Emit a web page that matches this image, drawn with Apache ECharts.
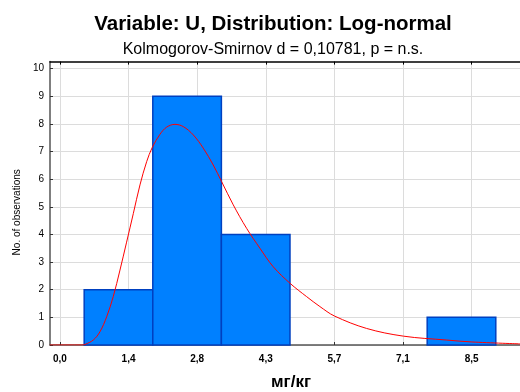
<!DOCTYPE html>
<html><head><meta charset="utf-8">
<script src="https://cdn.jsdelivr.net/npm/echarts@6/dist/echarts.min.js"></script>
<style>html,body{margin:0;padding:0;background:#fff}#c{width:520px;height:392px}</style>
</head><body><div id="c"></div>
<script>
const binEdges = [0.5, 1.91667, 3.33333, 4.75, 6.16667, 7.58333, 9.0];
const counts = [2, 9, 4, 0, 0, 1];
const xTickValues = [0, 1.41667, 2.83333, 4.25, 5.66667, 7.08333, 8.5];
const xTickLabels = ['0,0', '1,4', '2,8', '4,3', '5,7', '7,1', '8,5'];
const yTickValues = [0, 1, 2, 3, 4, 5, 6, 7, 8, 9, 10];
const curveX = [-0.21, 0.3, 0.45, 0.516, 0.688, 0.826, 0.964, 1.10, 1.239, 1.376, 1.514, 1.652, 1.79, 1.907, 2.065, 2.203, 2.374, 2.546, 2.752, 2.959, 3.165, 3.338, 3.578, 3.854, 4.129, 4.404, 4.752, 5.093, 5.368, 5.667, 6.33, 7.093, 7.98, 8.506, 9.5];
const curveY = [0, 0, 0, 0.02, 0.18, 0.48, 1.02, 1.75, 2.71, 3.72, 4.75, 5.79, 6.63, 7.15, 7.62, 7.88, 7.98, 7.90, 7.60, 7.12, 6.51, 5.91, 5.07, 4.22, 3.50, 2.83, 2.23, 1.75, 1.39, 1.05, 0.60, 0.32, 0.18, 0.11, 0.04];

const xMin = -0.206, xMax = 9.5, yMax = 10.25;
const font = 'Liberation Sans';

const barData = counts.map((c, i) => [binEdges[i], binEdges[i + 1], c]);
const curveData = curveX.map((x, i) => [x, curveY[i]]);

const chart = echarts.init(document.getElementById('c'), null, {renderer: 'canvas'});
chart.setOption({
  animation: false,
  backgroundColor: '#fff',
  title: [
    {text: 'Variable: U, Distribution: Log-normal', left: 273, top: 14, textAlign: 'center', padding: 0,
     textStyle: {fontFamily: font, fontWeight: 'bold', fontSize: 20.5, color: '#000'}},
    {text: 'Kolmogorov-Smirnov d = 0,10781, p = n.s.', left: 273, top: 42, textAlign: 'center', padding: 0,
     textStyle: {fontFamily: font, fontWeight: 'normal', fontSize: 16, color: '#000'}}
  ],
  grid: {left: 50, right: 0, top: 61.6, bottom: 47, containLabel: false, outerBoundsMode: 'none'},
  xAxis: [{
    type: 'value', min: xMin, max: xMax, position: 'bottom',
    name: 'мг/кг', nameLocation: 'middle', nameGap: 29,
    nameTextStyle: {fontFamily: font, fontWeight: 'bold', fontSize: 17, color: '#000', padding: [0, 0, 0, 12]},
    axisLine: {onZero: false, lineStyle: {color: '#555', width: 1.5}},
    axisTick: {inside: true, length: 3, customValues: xTickValues, lineStyle: {color: '#333'}},
    axisLabel: {customValues: xTickValues, margin: 9, fontFamily: font, fontWeight: 'bold', fontSize: 10, color: '#000',
      formatter: v => { const i = xTickValues.findIndex(t => Math.abs(t - v) < 1e-3); return i >= 0 ? xTickLabels[i] : ''; }},
    splitLine: {show: true, lineStyle: {color: '#dcdcdc', width: 1}}
  }, {
    type: 'value', min: xMin, max: xMax, position: 'top',
    axisLine: {onZero: false, lineStyle: {color: '#000', width: 1.5}},
    axisTick: {inside: true, length: 3, customValues: xTickValues, lineStyle: {color: '#000'}},
    axisLabel: {show: false},
    splitLine: {show: false}
  }],
  yAxis: {
    type: 'value', min: 0, max: yMax,
    name: 'No. of observations', nameLocation: 'middle', nameGap: 20,
    nameTextStyle: {fontFamily: font, fontSize: 10, color: '#000', padding: [0, 18, 0, 0]},
    axisLine: {show: true, onZero: false, lineStyle: {color: '#555', width: 1.5}},
    axisTick: {show: true, inside: true, length: 3, customValues: yTickValues, lineStyle: {color: '#333'}},
    axisLabel: {customValues: yTickValues, margin: 6, fontFamily: font, fontSize: 10, color: '#000'},
    splitLine: {show: true, lineStyle: {color: '#dcdcdc', width: 1}}
  },
  series: [{
    type: 'custom',
    xAxisIndex: 0,
    data: barData,
    encode: {x: [0, 1], y: 2},
    renderItem: (params, api) => {
      const h = api.value(2);
      if (!h) return null;
      const p0 = api.coord([api.value(0), h]);
      const p1 = api.coord([api.value(1), 0]);
      return {type: 'rect', shape: {x: p0[0], y: p0[1], width: p1[0] - p0[0], height: p1[1] - p0[1]},
        style: {fill: '#0080ff', stroke: '#0040c0', lineWidth: 1.5}};
    },
    z: 2
  }, {
    type: 'line',
    xAxisIndex: 0,
    data: curveData,
    smooth: 0.35,
    showSymbol: false,
    symbol: 'none',
    lineStyle: {color: '#ff0000', width: 1},
    z: 3
  }]
});
</script>
</body></html>
